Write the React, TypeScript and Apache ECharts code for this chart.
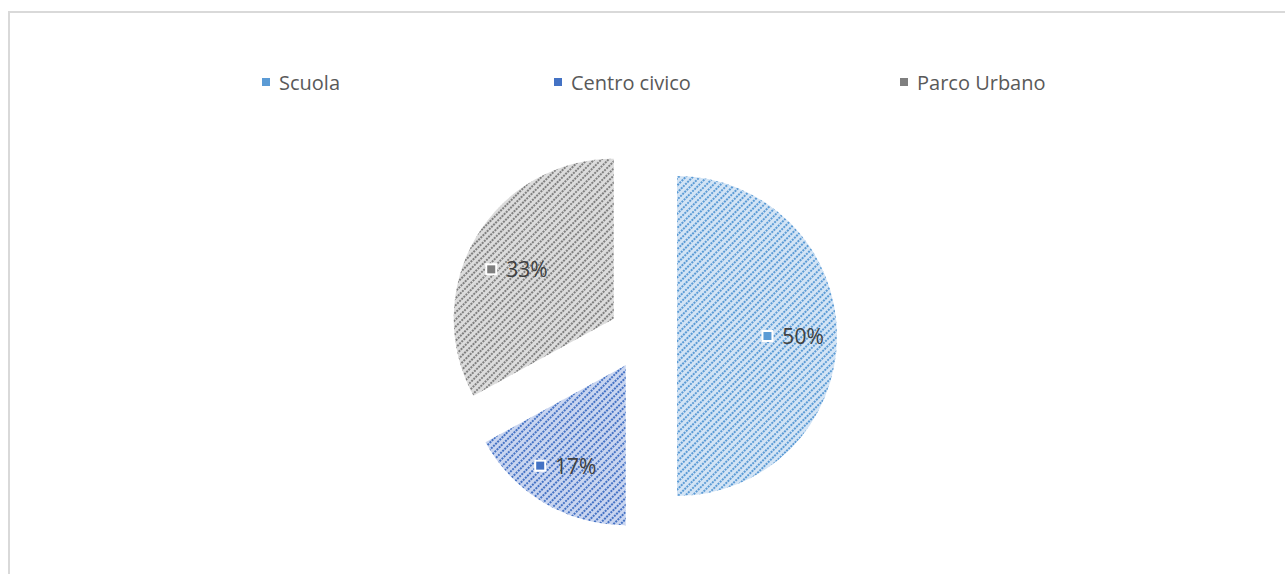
import React, { useEffect, useRef } from "react";
import * as echarts from "echarts";

const categories = ["Scuola", "Centro civico", "Parco Urbano"];
const values = [50, 17, 33];
const labelTexts = ["50%", "17%", "33%"];
const fgColors = ["#5b9bd5", "#4472c4", "#7f7f7f"];
const bgColors = ["#d3e4f5", "#c9d5f0", "#dcdcdc"];
const legendLefts = [257, 549, 895];

export default function App() {
  const ref = useRef<HTMLDivElement>(null);
  useEffect(() => {
    if (!ref.current) return;
    const chart = echarts.init(ref.current, undefined, { renderer: "svg" });
    const font = "'Open Sans', 'Noto Sans', sans-serif";
    const mkDecal = (c: string) => ({
      symbol: "rect",
      symbolSize: 1,
      color: c,
      dashArrayX: [2, 1],
      dashArrayY: [1.6, 2.2],
      rotation: -Math.PI / 4,
    });
    const mainData = categories.map((name, i) => ({
      name,
      value: values[i],
      selected: true,
      itemStyle: { color: bgColors[i], decal: mkDecal(fgColors[i]) },
    }));
    const labelPads = [[0, 0, 0, 0], [0, 0, 0, 0], [20, 0, 0, 8]];
    const labelData = categories.map((name, i) => ({
      name,
      value: values[i],
      selected: true,
      label: {
        formatter: "{sq" + i + "|}  " + labelTexts[i],
        padding: labelPads[i],
      },
    }));
    const rich: any = {};
    fgColors.forEach((c, i) => {
      rich["sq" + i] = {
        width: 8,
        height: 8,
        backgroundColor: c,
        borderColor: "#ffffff",
        borderWidth: 2,
      };
    });
    const center = [643, 336];
    const R = 160;
    chart.setOption({
      animation: false,
      legend: categories.map((name, i) => ({
        data: [{ name, itemStyle: { color: fgColors[i], decal: "none" } }],
        left: legendLefts[i],
        top: 67,
        itemWidth: 8,
        itemHeight: 8,
        itemGap: 10,
        icon: "rect",
        selectedMode: false,
        textStyle: { fontFamily: font, fontSize: 20, color: "#595959", padding: [0, 0, 0, 4] },
      })),
      series: [
        {
          type: "pie",
          center,
          radius: [0, R],
          startAngle: 90,
          clockwise: true,
          selectedMode: "multiple",
          selectedOffset: 34,
          label: { show: false },
          labelLine: { show: false },
          emphasis: { disabled: true },
          itemStyle: { borderWidth: 0 },
          silent: true,
          data: mainData,
        },
        {
          type: "pie",
          center,
          radius: [R * 0.42, R],
          startAngle: 90,
          clockwise: true,
          selectedMode: "multiple",
          selectedOffset: 34,
          silent: true,
          emphasis: { disabled: true },
          itemStyle: { color: "rgba(0,0,0,0)", borderWidth: 0 },
          labelLine: { show: false },
          label: {
            show: true,
            position: "inside",
            fontFamily: font,
            fontSize: 21,
            color: "#404040",
            rich,
          },
          data: labelData,
        },
      ],
    });
    return () => chart.dispose();
  }, []);
  return (
    <>
      <div
        style={{
          position: "fixed",
          left: 8,
          top: 11,
          width: 1400,
          height: 700,
          borderLeft: "2px solid #d9d9d9",
          borderTop: "2px solid #d9d9d9",
          background: "#ffffff",
        }}
      />
      <div
        ref={ref}
        style={{ position: "fixed", left: 0, top: 0, width: 1285, height: 574 }}
      />
    </>
  );
}
